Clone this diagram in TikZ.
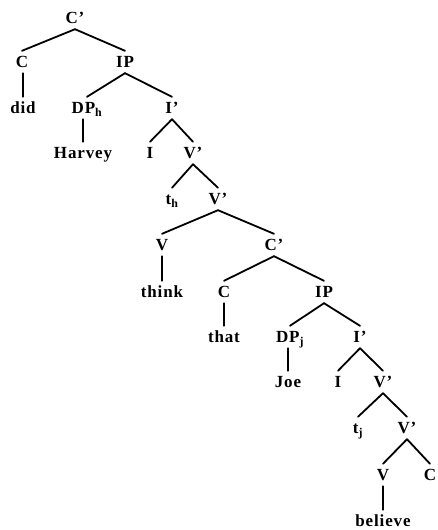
\documentclass[tikz,border=0pt]{standalone}
\usepackage{fontspec}
\setmainfont{Liberation Serif}[LetterSpace=5]
\begin{document}
\begin{tikzpicture}[x=1pt,y=-1pt,
  lab/.style={font=\fontsize{17}{19}\selectfont\bfseries, inner xsep=1pt, inner ysep=3.5pt,
    text height=13pt, text depth=2pt, anchor=center},
  br/.style={line width=1.8pt, line cap=round}]
\useasboundingbox (0,0) rectangle (437,530);
% level 0
\node[lab] (cb1) at (75,18) {C'};
% level 1
\node[lab] (c1) at (22,62) {C};
\node[lab] (ip1) at (125,62) {IP};
% level 2
\node[lab] (did) at (23,108) {did};
\node[lab] (dph) at (87,108) {DP\textsubscript{h}};
\node[lab] (ib1) at (172,108) {I'};
% level 3
\node[lab] (harvey) at (83,153) {Harvey};
\node[lab] (i1) at (150,153) {I};
\node[lab] (vb1) at (193,153) {V'};
% level 4
\node[lab] (th) at (172,199) {t\textsubscript{h}};
\node[lab] (vb2) at (218,199) {V'};
% level 5
\node[lab] (v1) at (162,245) {V};
\node[lab] (cb2) at (274,245) {C'};
% level 6
\node[lab] (think) at (162,292) {think};
\node[lab] (c2) at (224,292) {C};
\node[lab] (ip2) at (324,292) {IP};
% level 7
\node[lab] (that) at (224,337) {that};
\node[lab] (dpj) at (290,337) {DP\textsubscript{j}};
\node[lab] (ib2) at (360,337) {I'};
% level 8
\node[lab] (joe) at (288,382) {Joe};
\node[lab] (i2) at (338,382) {I};
\node[lab] (vb3) at (383,382) {V'};
% level 9
\node[lab] (tj) at (358,428) {t\textsubscript{j}};
\node[lab] (vb4) at (407,428) {V'};
% level 10
\node[lab] (v2) at (383,475) {V};
\node[lab] (c3) at (430,475) {C};
% level 11
\node[lab] (believe) at (383,521) {believe};
% branches
\draw[br] (cb1.south) -- (c1.north);
\draw[br] (cb1.south) -- (ip1.north);
\draw[br] (did.north |- c1.south) -- (did.north);
\draw[br] (ip1.south) -- (dph.north);
\draw[br] (ip1.south) -- (ib1.north);
\draw[br] (harvey.north |- dph.south) -- (harvey.north);
\draw[br] (ib1.south) -- (i1.north);
\draw[br] (ib1.south) -- (vb1.north);
\draw[br] (vb1.south) -- (th.north);
\draw[br] (vb1.south) -- (vb2.north);
\draw[br] (vb2.south) -- (v1.north);
\draw[br] (vb2.south) -- (cb2.north);
\draw[br] (think.north |- v1.south) -- (think.north);
\draw[br] (cb2.south) -- (c2.north);
\draw[br] (cb2.south) -- (ip2.north);
\draw[br] (that.north |- c2.south) -- (that.north);
\draw[br] (ip2.south) -- (dpj.north);
\draw[br] (ip2.south) -- (ib2.north);
\draw[br] (joe.north |- dpj.south) -- (joe.north);
\draw[br] (ib2.south) -- (i2.north);
\draw[br] (ib2.south) -- (vb3.north);
\draw[br] (vb3.south) -- (tj.north);
\draw[br] (vb3.south) -- (vb4.north);
\draw[br] (vb4.south) -- (v2.north);
\draw[br] (vb4.south) -- (c3.north);
\draw[br] (believe.north |- v2.south) -- (believe.north);
\end{tikzpicture}
\end{document}
